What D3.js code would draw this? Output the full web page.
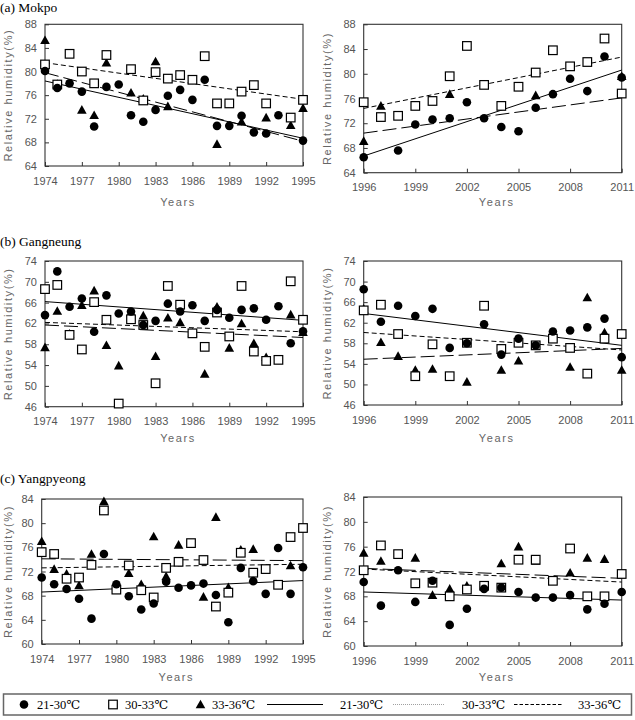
<!DOCTYPE html>
<html>
<head>
<meta charset="utf-8">
<script src="https://cdn.jsdelivr.net/npm/d3@7"></script>
<style>
  body { margin: 0; background: #fff; }
  svg { display: block; }
  .tick text { font-family: "Liberation Sans", Arial, sans-serif; font-size: 11px; fill: #555; }
  .tick line { stroke: #333; }
  .axtitle { font-family: "Liberation Sans", Arial, sans-serif; font-size: 11px; fill: #666; letter-spacing: 1.6px; }
  .ptitle { font-family: "Liberation Serif", "Times New Roman", "DejaVu Serif", serif; font-size: 13.5px; fill: #000; }
  .leg { font-family: "Liberation Serif", "Times New Roman", "DejaVu Serif", serif; font-size: 12.5px; fill: #000; }
</style>
</head>
<body>
<svg width="635" height="720"></svg>
<script>
// years
const yearsEarly = [1974,1975,1976,1977,1978,1979,1980,1981,1982,1983,1984,1985,1986,1987,1988,1989,1990,1991,1992,1993,1994,1995];
const yearsLate = [1996,1997,1998,1999,2000,2001,2002,2003,2004,2005,2006,2007,2008,2009,2010,2011];
const ticksEarly = [1974,1977,1980,1983,1986,1989,1992,1995];
const ticksLate = [1996,1999,2002,2005,2008,2011];

// (a) Mokpo
const mokpoEarly21 = [80.1,77.2,78.0,76.6,70.7,77.4,77.8,72.6,71.5,73.5,75.9,76.9,75.2,78.6,70.8,70.8,72.5,69.7,69.5,72.6,null,68.3];
const mokpoEarly30 = [81.2,77.8,83.0,80.0,78.0,82.8,null,80.4,75.1,79.9,78.8,79.4,78.6,82.6,74.6,74.6,76.6,77.7,74.6,null,72.2,75.2];
const mokpoEarly33 = [85.3,77.9,null,73.5,72.6,81.5,null,76.4,75.4,81.7,74.1,null,null,null,67.7,null,71.5,null,72.2,null,70.9,73.8];
const mokpoEarlyTrend = [[78.4,68.7],[81.5,75.3],[79.8,68.2]];
const mokpoLate21 = [66.5,null,67.6,71.8,72.6,72.8,75.4,72.8,71.4,70.7,74.5,76.7,79.2,77.2,82.8,79.4];
const mokpoLate30 = [75.4,73.0,73.2,74.8,75.6,79.6,84.5,78.2,74.8,77.9,80.2,83.8,81.2,81.9,85.7,76.8];
const mokpoLate33 = [69.1,74.8,null,null,null,76.7,null,null,null,null,76.5,null,null,null,null,79.6];
const mokpoLateTrend = [[66.7,80.6],[74.4,82.7],[70.4,76.1]];

// (b) Gangneung
const gangEarly21 = [63.6,72.0,65.2,66.8,60.4,67.4,63.9,64.3,61.7,62.5,65.8,64.3,65.5,62.5,64.6,63.1,64.6,64.9,62.7,65.3,58.2,60.5];
const gangEarly30 = [68.6,69.4,59.8,57.0,66.1,62.7,46.6,62.8,61.7,50.5,69.2,65.6,60.1,57.5,64.1,59.5,69.2,56.6,54.8,55.0,70.1,62.7];
const gangEarly33 = [57.4,64.4,60.0,65.5,68.3,57.8,53.9,64.1,63.5,55.7,63.1,62.2,60.2,52.3,65.2,57.3,62.0,58.2,55.5,null,63.7,60.3];
const gangEarlyTrend = [[66.2,62.6],[62.2,60.4],[61.7,59.3]];
const gangLate21 = [68.5,62.2,65.3,63.3,64.7,57.1,58.0,61.7,55.8,58.9,57.6,60.3,60.5,61.1,62.8,55.3];
const gangLate30 = [64.4,65.5,59.8,51.6,57.8,51.6,58.1,65.3,56.9,58.1,57.6,58.9,57.1,52.1,58.9,59.8];
const gangLate33 = [64.7,58.2,55.5,52.8,53.0,null,50.5,null,52.8,54.6,null,60.0,53.4,66.9,60.1,52.8];
const gangLateTrend = [[63.8,57.6],[60.1,56.7],[54.9,57.0]];

// (c) Yangpyeong
const yangEarly21 = [71.0,69.9,69.1,67.5,64.2,74.9,69.9,67.9,65.7,66.7,70.3,69.3,69.7,70.0,68.1,63.6,72.6,70.4,68.3,75.9,68.3,72.7];
const yangEarly30 = [75.2,74.9,70.8,71.0,73.1,82.1,69.0,73.0,68.9,67.7,72.6,73.6,76.7,73.9,66.2,68.5,75.1,71.8,72.4,69.8,77.7,79.2];
const yangEarly33 = [77.0,72.4,71.6,69.7,74.9,83.6,null,71.7,69.9,77.8,71.2,76.4,null,67.8,81.0,69.4,75.6,75.7,null,null,73.0,null];
const yangEarlyTrend = [[68.6,70.5],[72.6,73.2],[74.1,73.8]];
const yangLate21 = [70.3,66.5,72.2,67.1,70.5,63.4,66.0,69.2,69.4,68.7,67.8,67.8,68.2,65.9,66.8,68.7];
const yangLate30 = [72.2,76.2,74.8,70.1,70.2,68.0,69.1,69.7,69.4,73.9,73.9,70.5,75.7,68.0,68.0,71.6];
const yangLate33 = [75.0,73.7,null,74.2,68.2,69.2,69.7,null,73.3,76.0,73.7,null,71.8,74.2,74.0,null];
const yangLateTrend = [[68.7,67.4],[72.4,70.3],[72.5,70.9]];

const legendLabels = ["21-30℃","30-33℃","33-36℃"];

const svg = d3.select("svg");

const panels = [
  {title:"(a) Mokpo", tY:7, years:yearsEarly, ticks:ticksEarly, yd:[64,88], s:[mokpoEarly21,mokpoEarly30,mokpoEarly33], tr:mokpoEarlyTrend, L:45, R:303, T:24.3, B:166, yearsY:202, ytX:8},
  {years:yearsLate, ticks:ticksLate, yd:[64,88], s:[mokpoLate21,mokpoLate30,mokpoLate33], tr:mokpoLateTrend, L:363.7, R:621.7, T:24.3, B:172.7, yearsY:202, ytX:327},
  {title:"(b) Gangneung", tY:241, years:yearsEarly, ticks:ticksEarly, yd:[46,74], s:[gangEarly21,gangEarly30,gangEarly33], tr:gangEarlyTrend, L:45, R:303, T:261, B:406.7, yearsY:438, ytX:8},
  {years:yearsLate, ticks:ticksLate, yd:[46,74], s:[gangLate21,gangLate30,gangLate33], tr:gangLateTrend, L:363.7, R:621.7, T:261, B:405, yearsY:438, ytX:327},
  {title:"(c) Yangpyeong", tY:478, years:yearsEarly, ticks:ticksEarly, yd:[60,84], s:[yangEarly21,yangEarly30,yangEarly33], tr:yangEarlyTrend, L:41.7, R:303, T:499, B:644, yearsY:677, ytX:8},
  {years:yearsLate, ticks:ticksLate, yd:[60,84], s:[yangLate21,yangLate30,yangLate33], tr:yangLateTrend, L:363.7, R:621.7, T:497, B:646, yearsY:677, ytX:327}
];

const dashes = [null, "5,3", "14,5"];

function marker(g, type, cx, cy) {
  if (type === 0) {
    g.append("circle").attr("cx", cx).attr("cy", cy).attr("r", 4.3).attr("fill", "#000");
  } else if (type === 1) {
    g.append("rect").attr("x", cx - 4.3).attr("y", cy - 4.3).attr("width", 8.6).attr("height", 8.6)
      .attr("fill", "#fff").attr("stroke", "#000").attr("stroke-width", 1.2);
  } else {
    g.append("path").attr("d", `M${cx},${cy - 4.8} L${cx + 4.8},${cy + 3.8} L${cx - 4.8},${cy + 3.8} Z`).attr("fill", "#000");
  }
}

panels.forEach(p => {
  const x = d3.scaleLinear().domain([p.years[0], p.years[p.years.length - 1]]).range([p.L, p.R]);
  const y = d3.scaleLinear().domain(p.yd).range([p.B, p.T]);
  const g = svg.append("g");

  if (p.title) g.append("text").attr("class", "ptitle").attr("x", 0).attr("y", p.tY).attr("dy", "0.35em").text(p.title);

  const yTicks = d3.range(p.yd[0], p.yd[1] + 1, 4);
  g.append("g").attr("transform", `translate(${p.L},0)`)
    .call(d3.axisLeft(y).tickValues(yTicks).tickSize(-4).tickPadding(8))
    .call(a => a.select(".domain").remove());
  g.append("g").attr("transform", `translate(0,${p.B})`)
    .call(d3.axisBottom(x).tickValues(p.ticks).tickSize(-4).tickPadding(11).tickFormat(d3.format("d")))
    .call(a => a.select(".domain").remove());

  g.append("rect").attr("x", p.L).attr("y", p.T).attr("width", p.R - p.L).attr("height", p.B - p.T)
    .attr("fill", "none").attr("stroke", "#333").attr("stroke-width", 1.1);

  g.append("text").attr("class", "axtitle")
    .attr("transform", `translate(${p.ytX},${(p.T + p.B) / 2}) rotate(-90)`)
    .attr("text-anchor", "middle").attr("dy", "0.35em").text("Relative humidity(%)");
  g.append("text").attr("class", "axtitle").attr("x", (p.L + p.R) / 2 + 4).attr("y", p.yearsY)
    .attr("text-anchor", "middle").attr("dy", "0.35em").text("Years");

  // trend lines
  p.tr.forEach((t, i) => {
    g.append("line")
      .attr("x1", x(p.years[0])).attr("y1", y(t[0]))
      .attr("x2", x(p.years[p.years.length - 1])).attr("y2", y(t[1]))
      .attr("stroke", "#000").attr("stroke-width", 1)
      .attr("stroke-dasharray", dashes[i]);
  });

  // points: triangles, squares, circles
  [2, 1, 0].forEach(k => {
    p.s[k].forEach((v, j) => {
      if (v == null) return;
      marker(g, k, x(p.years[j]), y(v));
    });
  });
});

// legend
const lg = svg.append("g");
lg.append("rect").attr("x", 3.5).attr("y", 694).attr("width", 628).attr("height", 21)
  .attr("fill", "none").attr("stroke", "#666").attr("stroke-width", 1.5);
const ly = 704.5;
marker(lg, 0, 24, ly);
lg.append("text").attr("class", "leg").attr("x", 37).attr("y", ly).attr("dy", "0.35em").text(legendLabels[0]);
marker(lg, 1, 113, ly);
lg.append("text").attr("class", "leg").attr("x", 125).attr("y", ly).attr("dy", "0.35em").text(legendLabels[1]);
marker(lg, 2, 200.5, ly);
lg.append("text").attr("class", "leg").attr("x", 212).attr("y", ly).attr("dy", "0.35em").text(legendLabels[2]);

lg.append("line").attr("x1", 267).attr("x2", 323).attr("y1", ly).attr("y2", ly).attr("stroke", "#000").attr("stroke-width", 1);
lg.append("text").attr("class", "leg").attr("x", 340).attr("y", ly).attr("dy", "0.35em").text(legendLabels[0]);
lg.append("line").attr("x1", 393).attr("x2", 445).attr("y1", ly).attr("y2", ly).attr("stroke", "#888").attr("stroke-width", 0.8).attr("stroke-dasharray", "1,1");
lg.append("text").attr("class", "leg").attr("x", 462).attr("y", ly).attr("dy", "0.35em").text(legendLabels[1]);
lg.append("line").attr("x1", 514).attr("x2", 563).attr("y1", ly).attr("y2", ly).attr("stroke", "#000").attr("stroke-width", 1).attr("stroke-dasharray", "3.5,2");
lg.append("text").attr("class", "leg").attr("x", 578).attr("y", ly).attr("dy", "0.35em").text(legendLabels[2]);
</script>
</body>
</html>
